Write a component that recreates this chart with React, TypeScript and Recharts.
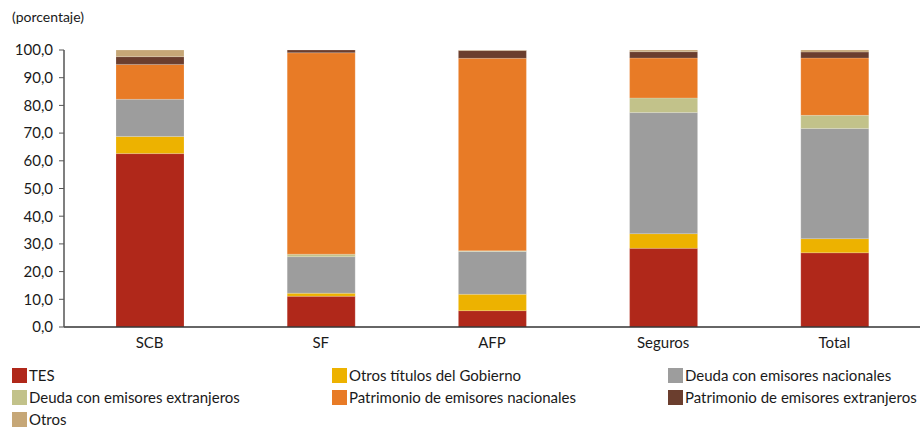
import React from "react";
import { BarChart, Bar, XAxis, YAxis } from "recharts";

// Composición del portafolio por tipo de entidad (porcentaje)
const categories = ["SCB", "SF", "AFP", "Seguros", "Total"];

const tes = [62.6, 11.1, 5.9, 28.4, 26.8];
const otrosGobierno = [6.2, 1.1, 5.9, 5.3, 5.1];
const deudaNacionales = [13.4, 13.2, 15.5, 43.7, 39.8];
const deudaExtranjeros = [0.0, 0.9, 0.2, 5.3, 4.7];
const patrimonioNacionales = [12.6, 72.7, 69.5, 14.4, 20.7];
const patrimonioExtranjeros = [2.8, 1.0, 2.8, 2.3, 2.2];
const otros = [2.4, 0.0, 0.2, 0.6, 0.7];

const yTicks = [0, 10, 20, 30, 40, 50, 60, 70, 80, 90, 100];

const series = [
  { key: "tes", name: "TES", color: "#B0281A", values: tes },
  { key: "gob", name: "Otros títulos del Gobierno", color: "#EDB200", values: otrosGobierno },
  { key: "dnac", name: "Deuda con emisores nacionales", color: "#9D9D9D", values: deudaNacionales },
  { key: "dext", name: "Deuda con emisores extranjeros", color: "#C2C28A", values: deudaExtranjeros },
  { key: "pnac", name: "Patrimonio de emisores nacionales", color: "#E87B26", values: patrimonioNacionales },
  { key: "pext", name: "Patrimonio de emisores extranjeros", color: "#6B3E2E", values: patrimonioExtranjeros },
  { key: "otros", name: "Otros", color: "#C6A777", values: otros },
];

const data = categories.map((cat, i) => {
  const row: Record<string, string | number> = { cat };
  series.forEach((s) => (row[s.key] = s.values[i]));
  return row;
});

const FONT = "Lato, 'Open Sans', sans-serif";
const fmt = (v: number) => v.toFixed(1).replace(".", ",");

const legendCols = [12, 332, 668];

export default function App() {
  return (
    <div
      style={{
        position: "absolute",
        left: 0,
        top: 0,
        width: 923,
        height: 429,
        background: "#fff",
        fontFamily: FONT,
        color: "#1a1a1a",
        overflow: "hidden",
      }}
    >
      <div style={{ position: "absolute", left: 12, top: 8, fontSize: 14 }}>
        (porcentaje)
      </div>
      <BarChart
        width={923}
        height={360}
        data={data}
        margin={{ top: 50, right: 3, bottom: 3, left: 0 }}
        barSize={68}
      >
        <XAxis
          dataKey="cat"
          tickLine={false}
          axisLine={{ stroke: "#333", strokeWidth: 1.5 }}
          height={30}
          tick={{ fill: "#1a1a1a", fontSize: 15, fontFamily: FONT }}
          tickMargin={4}
        />
        <YAxis
          domain={[0, 100]}
          ticks={yTicks}
          tickFormatter={fmt}
          width={64}
          axisLine={{ stroke: "#555", strokeWidth: 1.5 }}
          tickLine={{ stroke: "#555" }}
          tickSize={5}
          tick={{ fill: "#1a1a1a", fontSize: 15, fontFamily: FONT }}
          tickMargin={6}
        />
        {series.map((s) => (
          <Bar
            key={s.key}
            dataKey={s.key}
            name={s.name}
            stackId="a"
            fill={s.color}
            stroke="#ffffff"
            strokeOpacity={0.35}
            strokeWidth={0.5}
            isAnimationActive={false}
          />
        ))}
      </BarChart>
      {series.map((s, i) => {
        const col = i % 3;
        const row = Math.floor(i / 3);
        return (
          <div
            key={s.key}
            style={{
              position: "absolute",
              left: legendCols[col],
              top: 367 + row * 22,
              display: "flex",
              alignItems: "center",
              fontSize: 15,
              lineHeight: "17px",
              whiteSpace: "nowrap",
            }}
          >
            <span
              style={{
                display: "inline-block",
                width: 15,
                height: 15,
                background: s.color,
                marginRight: 2,
              }}
            />
            {s.name}
          </div>
        );
      })}
    </div>
  );
}
